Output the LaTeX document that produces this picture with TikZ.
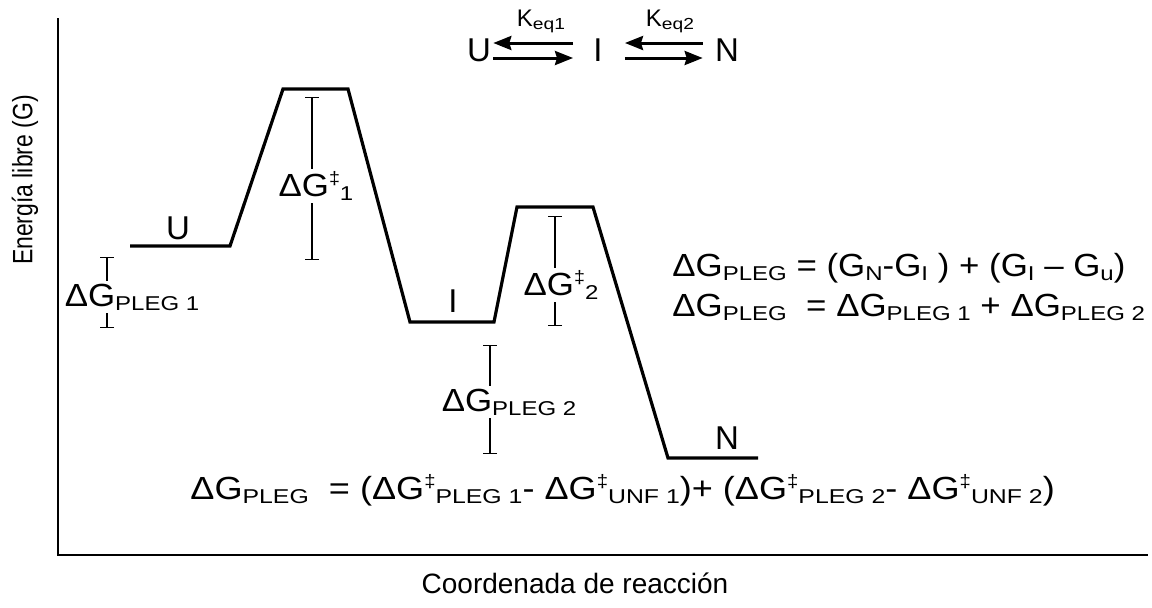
\documentclass[tikz,border=0pt]{standalone}
\usepackage{graphicx}
\usepackage{fontspec}
\setmainfont{Liberation Sans}
\newfontfamily\widefont[FakeStretch=1.09]{Liberation Sans}
\newfontfamily\subfont[FakeStretch=1.2]{Liberation Sans}
\usetikzlibrary{arrows.meta}
\newcommand{\sbs}[1]{\raisebox{-2pt}{\subfont\fontsize{10}{11}\selectfont #1}}
\newcommand{\ksbs}[1]{\raisebox{-1.5pt}{\subfont\fontsize{8}{9}\selectfont #1}}
\newcommand{\ddg}{\raisebox{6pt}{\fontsize{9}{10}\selectfont ‡}}
\newcommand{\DG}{ΔG}

\begin{document}
\begin{tikzpicture}[x=0.5pt, y=-0.5pt,
		every node/.style={font=\widefont\fontsize{16}{18}\selectfont, inner sep=1pt},
		state/.style={font=\normalfont\fontsize{16.5}{18}\selectfont},
		small/.style={font=\normalfont\fontsize{12}{14}\selectfont},
		axislabel/.style={font=\normalfont\fontsize{14}{16}\selectfont},
		axis/.style={line width=1pt},
		profile/.style={line width=1.6pt, line join=miter},
		bar/.style={line width=0.7pt, {Bar[width=7pt]}-},
		eqarrow/.style={line width=1.5pt, -{Stealth[length=9pt, width=7pt, inset=1pt]}}]

	\useasboundingbox (0,0) rectangle (1152,607);

	% axes
	\coordinate (top) at (58,18);
	\coordinate (orig) at (58,555);
	\coordinate (right) at (1148,555);
	\draw[axis] (top) -- (orig) -- (right);
	\node[axislabel, rotate=90] (ylab) at (25,180) {\scalebox{0.82}[1]{Energía libre (G)}};
	\node[axislabel] (xlab) at (575,583) {Coordenada de reacción};

	% energy profile
	\draw[profile] (130,246) -- (230,246) -- (283,89) -- (348,89) -- (410,322) -- (494,322)
		-- (517,207) -- (593,207) -- (668,458) -- (758,458);
	\node[state] (U) at (178,228) {U};
	\node[state] (I) at (453,301) {I};
	\node[state] (N) at (727,438) {N};

	% barriers and differences
	\node (b1) at (316,186) {\DG\ddg\sbs{1}};
	\coordinate (b1t) at (312,97);
	\coordinate (b1b) at (312,260);
	\draw[bar] (b1t) -- (b1t |- b1.north);
	\draw[bar] (b1b) -- (b1b |- b1.south);

	\node (b2) at (561,285) {\DG\ddg\sbs{2}};
	\coordinate (b2t) at (555,216);
	\coordinate (b2b) at (555,326);
	\draw[bar] (b2t) -- (b2t |- b2.north);
	\draw[bar] (b2b) -- (b2b |- b2.south);

	\node (p1) at (132,297) {\DG\sbs{PLEG 1}};
	\coordinate (p1t) at (107,257);
	\coordinate (p1b) at (107,328);
	\draw[bar] (p1t) -- (p1t |- p1.north);
	\draw[bar] (p1b) -- (p1b |- p1.south);

	\node (p2) at (509,402) {\DG\sbs{PLEG 2}};
	\coordinate (p2t) at (490,345);
	\coordinate (p2b) at (490,454);
	\draw[bar] (p2t) -- (p2t |- p2.north);
	\draw[bar] (p2b) -- (p2b |- p2.south);

	% scheme
	\node[state] (sU) at (479,50) {U};
	\node[state] (sI) at (598,50) {I};
	\node[state] (sN) at (727,50) {N};
	\draw[eqarrow] ([yshift=3.5pt,xshift=-9pt]sI.west) -- ([yshift=3.5pt]sU.east);
	\draw[eqarrow] ([yshift=-4pt]sU.east) -- ([yshift=-4pt,xshift=-9pt]sI.west);
	\draw[eqarrow] ([yshift=3.5pt,xshift=-5pt]sN.west) -- ([yshift=3.5pt,xshift=10pt]sI.east);
	\draw[eqarrow] ([yshift=-4pt,xshift=10pt]sI.east) -- ([yshift=-4pt,xshift=-5pt]sN.west);
	\node[small] (k1) at (541,21) {K\ksbs{eq1}};
	\node[small] (k2) at (670,21) {K\ksbs{eq2}};

	% equations
	\node[anchor=west] (e1) at (670,268) {\DG\sbs{PLEG} = (G\sbs{N}-G\sbs{I} ) + (G\sbs{I} – G\sbs{u})};
	\node[anchor=west] (e2) at (670,307) {\DG\sbs{PLEG} ~= \DG\sbs{PLEG 1} + \DG\sbs{PLEG 2}};
	\node[anchor=west] (e3) at (188,490) {\scalebox{1.035}[1]{\DG\sbs{PLEG} ~= (\DG\ddg\sbs{PLEG 1}- \DG\ddg\sbs{UNF 1})+ (\DG\ddg\sbs{PLEG 2}- \DG\ddg\sbs{UNF 2})}};
\end{tikzpicture}
\end{document}
